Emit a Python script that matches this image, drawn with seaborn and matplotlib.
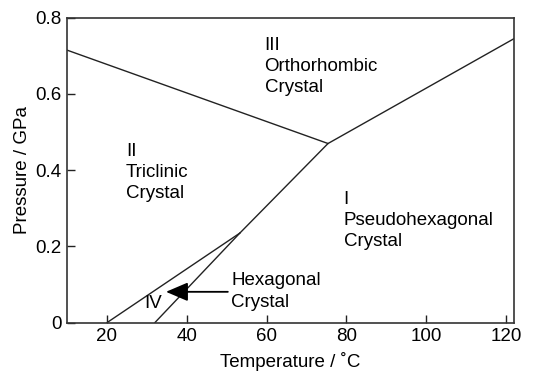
import matplotlib
matplotlib.use("Agg")
import matplotlib.pyplot as plt
import seaborn as sns
import pandas as pd

# Phase boundary segments (temperature in C, pressure in GPa)
seg_ids = ["II-III", "II-III", "I-III", "I-III", "I-II", "I-II", "I-IV", "I-IV", "II-IV", "II-IV"]
temps = [10, 75.4, 75.4, 122, 75.4, 53.3, 53.3, 32, 53.3, 20]
press = [0.715, 0.47, 0.47, 0.745, 0.47, 0.235, 0.235, 0.0, 0.235, 0.0]

x_ticks = [20, 40, 60, 80, 100, 120]
x_tick_labels = ["20", "40", "60", "80", "100", "120"]
y_ticks = [0, 0.2, 0.4, 0.6, 0.8]
y_tick_labels = ["0", "0.2", "0.4", "0.6", "0.8"]

phase_labels = ["III\nOrthorhombic\nCrystal", "II\nTriclinic\nCrystal",
                "I\nPseudohexagonal\nCrystal", "Hexagonal\nCrystal", "IV"]
label_T = [59.5, 24.8, 79.3, 51.2, 31.7]
label_P = [0.75, 0.472, 0.345, 0.132, 0.05]

arrow_tail = (50.3, 0.081)
arrow_tip = (34.8, 0.081)

df = pd.DataFrame({"segment": seg_ids, "T": temps, "P": press})

sns.set_theme(style="ticks")
plt.rcParams["font.family"] = ["Liberation Sans", "DejaVu Sans"]

fig = plt.figure(figsize=(5.33, 3.72), dpi=100)
ax = fig.add_axes([67 / 533, 1 - 322.7 / 372, (514 - 67) / 533, (322.7 - 17.7) / 372])

sns.lineplot(data=df, x="T", y="P", units="segment", estimator=None, sort=False,
             color="#222222", linewidth=1.0, ax=ax, legend=False)

ax.set_xlim(10, 122)
ax.set_ylim(0, 0.8)
ax.set_xticks(x_ticks)
ax.set_xticklabels(x_tick_labels)
ax.set_yticks(y_ticks)
ax.set_yticklabels(y_tick_labels)
ax.tick_params(direction="in", length=6, width=1.0, colors="#222222",
               labelsize=13.5, labelcolor="black", pad=4)
for s in ax.spines.values():
    s.set_visible(True)
    s.set_color("#333333")
    s.set_linewidth(1.2)

ax.set_xlabel("Temperature / ˚C", fontsize=13.5, color="black", labelpad=5)
ax.set_ylabel("Pressure / GPa", fontsize=13.5, color="black", labelpad=3)

for txt, tx, py in zip(phase_labels, label_T, label_P):
    if txt == "IV":
        ax.text(tx, py, txt, ha="center", va="center", fontsize=13.5, color="black")
    else:
        ax.text(tx, py, txt, ha="left", va="top", fontsize=13.5, color="black", linespacing=1.32)

ax.annotate("", xy=arrow_tip, xytext=arrow_tail,
            arrowprops=dict(arrowstyle="-|>,head_length=0.75,head_width=0.32",
                            color="black", lw=1.3, mutation_scale=18, shrinkA=0, shrinkB=0))

fig.savefig("out.png", dpi=100)
